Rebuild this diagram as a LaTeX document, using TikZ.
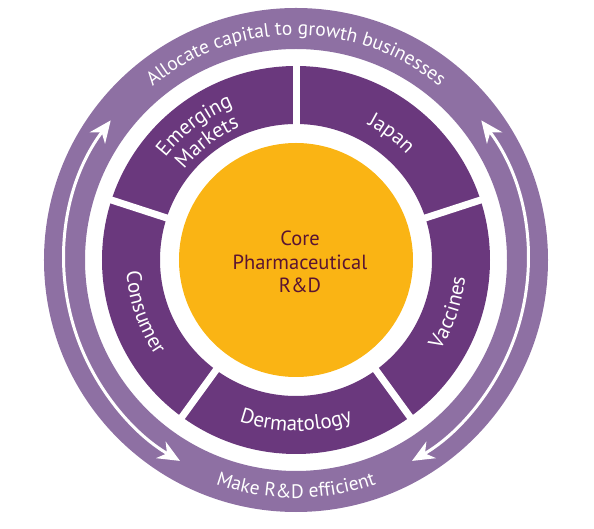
\documentclass[tikz,border=0pt]{standalone}
\usepackage{fontspec}
\setmainfont{PT Sans}
\usetikzlibrary{arrows.meta,decorations.text}
\definecolor{ringpurple}{HTML}{8E70A3}
\definecolor{segpurple}{HTML}{6A387D}
\definecolor{coreyellow}{HTML}{FAB414}
\definecolor{coretext}{HTML}{5A1432}
\newcommand\ringfont{\fontsize{19.5}{21}\selectfont}
\newcommand\labfont{\fontsize{21}{23}\selectfont}
\tikzset{
  curvetext/.style={decorate, decoration={text along path, text align=center, text color=white}},
  ringarrow/.style={white, line width=3pt,
    {Stealth[length=22pt,width=19pt,inset=7pt]}-{Stealth[length=22pt,width=19pt,inset=7pt]}},
  gapline/.style={white, line width=7pt}
}
\begin{document}
\begin{tikzpicture}[x=1pt,y=1pt]
\useasboundingbox (-296,-269) rectangle (298,260);
% outer ring
\fill[ringpurple, even odd rule] (0,0) circle[radius=252] (0,0) circle[radius=211];
% segments
\fill[segpurple, even odd rule] (0,0) circle[radius=194] (0,0) circle[radius=136];
\foreach \a in {90,18,-54,-126,162} \draw[gapline] (\a:130) -- (\a:200);
% core
\fill[coreyellow] (0,0) circle[radius=117];
\node[align=center, text=coretext, font=\fontsize{20.5}{23.5}\selectfont] (core) at (4,-2) {Core\\Pharmaceutical\\R\&D};
% ring arrows
\draw[ringarrow] (143:232) arc[start angle=143, end angle=240, radius=232];
\draw[ringarrow] (37:232) arc[start angle=37, end angle=-60, radius=232];
% ring texts
\path[curvetext, decoration={text={|\ringfont|Allocate capital to growth businesses}}]
  (170:225) arc[start angle=170, end angle=10, radius=225];
\path[curvetext, decoration={text={|\ringfont|Make R{\&}D efficient}}]
  (-160:238) arc[start angle=-160, end angle=-20, radius=238];
% segment labels
\path[curvetext, decoration={text={|\labfont|Japan}}]
  (93:153) arc[start angle=93, end angle=13, radius=153];
\path[curvetext, decoration={text={|\labfont|Emerging}}]
  (167:166) arc[start angle=167, end angle=87, radius=166];
\path[curvetext, decoration={text={|\labfont|Markets}}]
  (167:144) arc[start angle=167, end angle=87, radius=144];
\path[curvetext, decoration={text={|\labfont|Consumer}}]
  (159:170) arc[start angle=159, end angle=239, radius=170];
\path[curvetext, decoration={text={|\labfont|Vaccines}}]
  (-59:170) arc[start angle=-59, end angle=21, radius=170];
\path[curvetext, decoration={text={|\labfont|Dermatology}}]
  (-130:171) arc[start angle=-130, end angle=-50, radius=171];
\end{tikzpicture}
\end{document}
